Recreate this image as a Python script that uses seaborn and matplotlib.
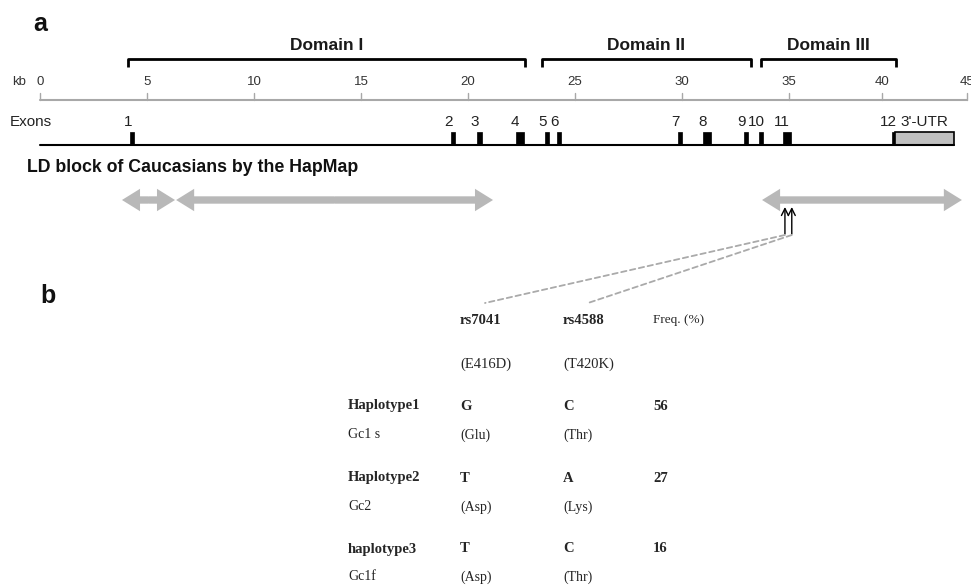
import matplotlib
matplotlib.use('Agg')
import matplotlib.pyplot as plt
import seaborn as sns
from matplotlib.patches import ConnectionPatch

sns.set_theme(style="white")
plt.rcParams['font.family'] = ['Liberation Sans', 'DejaVu Sans']

# 基因结构 (kb)
exon_names = ['1', '2', '3', '4', '5', '6', '7', '8', '9', '10', '11', '12']
exon_start = [4.22, 19.22, 20.42, 22.24, 23.60, 24.17, 29.80, 30.98, 32.90, 33.60, 34.72, 39.80]
exon_end = [4.41, 19.41, 20.65, 22.62, 23.78, 24.36, 30.00, 31.36, 33.10, 33.80, 35.09, 39.95]
utr_start, utr_end = 39.95, 42.71

tick_pos = [0, 5, 10, 15, 20, 25, 30, 35, 39.35, 43.3]
tick_labels = ['0', '5', '10', '15', '20', '25', '30', '35', '40', '45']

domain_names = ['Domain I', 'Domain II', 'Domain III']
domain_start = [4.11, 23.44, 33.69]
domain_end = [22.66, 33.22, 39.99]

# HapMap LD block
ld_start = [3.83, 6.36, 33.74]
ld_end = [6.31, 21.17, 43.08]

snp_names = ['rs7041', 'rs4588']
snp_pos = [34.81, 35.13]
snp_change = ['(E416D)', '(T420K)']

# 单倍型表
haplotypes = ['Haplotype1', 'Haplotype2', 'haplotype3']
gc_types = ['Gc1 s', 'Gc2', 'Gc1f']
allele_7041 = ['G', 'T', 'T']
aa_7041 = ['(Glu)', '(Asp)', '(Asp)']
allele_4588 = ['C', 'A', 'C']
aa_4588 = ['(Thr)', '(Lys)', '(Thr)']
freq = [56, 27, 16]

fig = plt.figure(figsize=(9.71, 5.88), dpi=100)

# 面板a: x轴为kb
ax = fig.add_axes([0, 0, 1, 1])
ax.set_xlim(-40 / 21.4, 931 / 21.4)
ax.set_ylim(588, 0)
ax.axis('off')

# 面板b: 像素坐标
axt = fig.add_axes([0, 0, 1, 1])
axt.set_xlim(0, 971)
axt.set_ylim(588, 0)
axt.axis('off')
axt.patch.set_alpha(0)

axt.text(33, 24, 'a', fontsize=18, fontweight='bold', ha='left', va='center', color='#111111')
axt.text(40, 296, 'b', fontsize=18, fontweight='bold', ha='left', va='center', color='#111111')

# 结构域括号
for name, s, e in zip(domain_names, domain_start, domain_end):
    ax.plot([s, s, e, e], [67, 59, 59, 67], color='black', lw=2, solid_capstyle='butt')
    ax.text((s + e) / 2, 45, name, fontsize=12.5, fontweight='bold', ha='center', va='center',
            color='#1a1a1a')

# 标尺
ax.plot([tick_pos[0], tick_pos[-1]], [100, 100], color='#a8a8a8', lw=1.5)
for p, lab in zip(tick_pos, tick_labels):
    ax.plot([p, p], [93, 100], color='#a8a8a8', lw=1)
    ax.text(p, 82, lab, fontsize=9.5, ha='center', va='center', color='#333333')
ax.text(-1.3, 82, 'kb', fontsize=9.5, ha='left', va='center', color='#333333')

# 外显子
ax.text(-1.4, 122, 'Exons', fontsize=11, ha='left', va='center', color='#222222')
ax.plot([0, utr_end], [145, 145], color='black', lw=1.5)
widths = [e - s for s, e in zip(exon_start, exon_end)]
ax.bar(exon_start, [13] * len(exon_start), width=widths, bottom=132, align='edge',
       color='black', edgecolor='black', lw=0.5)
for name, s, e in zip(exon_names, exon_start, exon_end):
    ax.text((s + e) / 2 - 0.22, 122, name, fontsize=11, ha='center', va='center', color='#222222')
ax.bar([utr_start], [13], width=utr_end - utr_start, bottom=132, align='edge',
       color='#c0c0c0', edgecolor='black', lw=1.2)
ax.text((utr_start + utr_end) / 2, 122, "3'-UTR", fontsize=11, ha='center', va='center', color='#222222')

axt.text(27, 167, 'LD block of Caucasians by the HapMap', fontsize=12.8, fontweight='bold',
         ha='left', va='center', color='#111111')

# 双向箭头: 杆 + 两端实心箭头
ld_color = '#b8b8b8'
ld_style = 'simple,head_length=0.5,head_width=0.62,tail_width=0.2'
for s, e in zip(ld_start, ld_end):
    ax.plot([s + 0.4, e - 0.4], [200, 200], color=ld_color, lw=4.6, solid_capstyle='butt')
    m = (s + e) / 2
    for end in (s, e):
        ax.annotate('', xy=(end, 200), xytext=(m, 200),
                    arrowprops=dict(arrowstyle=ld_style, color=ld_color, lw=0,
                                    shrinkA=0, shrinkB=0, mutation_scale=26))

# SNP 位置
for p in snp_pos:
    ax.annotate('', xy=(p, 207), xytext=(p, 234),
                arrowprops=dict(arrowstyle='->,head_length=0.5,head_width=0.25',
                                color='black', lw=1, shrinkA=0, shrinkB=0, mutation_scale=10))

col_x = [348, 460, 563, 653]
head_y, sub_y = 320, 364
row_y = [406, 478, 549]
row_sub_y = [435, 507, 577]

# 虚线连接
for p, cx in zip(snp_pos, col_x[1:3]):
    con = ConnectionPatch(xyA=(p, 235), coordsA=ax.transData,
                          xyB=(cx + 25, 303), coordsB=axt.transData,
                          color='#aaaaaa', lw=1.3, ls=(0, (3, 2)))
    fig.add_artist(con)

serif = ['Liberation Serif', 'DejaVu Serif']
fs = 10.5
for name, chg, cx in zip(snp_names, snp_change, col_x[1:3]):
    axt.text(cx, head_y, name, fontsize=fs, fontweight='bold', family=serif, ha='left', va='center')
    axt.text(cx, sub_y, chg, fontsize=fs, family=serif, ha='left', va='center')
axt.text(col_x[3], head_y, 'Freq. (%)', fontsize=fs - 1, family=serif, ha='left', va='center')

for i in range(len(haplotypes)):
    y1, y2 = row_y[i], row_sub_y[i]
    axt.text(col_x[0], y1, haplotypes[i], fontsize=fs, fontweight='bold', family=serif, ha='left', va='center')
    axt.text(col_x[1], y1, allele_7041[i], fontsize=fs, fontweight='bold', family=serif, ha='left', va='center')
    axt.text(col_x[2], y1, allele_4588[i], fontsize=fs, fontweight='bold', family=serif, ha='left', va='center')
    axt.text(col_x[3], y1, str(freq[i]), fontsize=fs, fontweight='bold', family=serif, ha='left', va='center')
    axt.text(col_x[0], y2, gc_types[i], fontsize=fs - 0.5, family=serif, ha='left', va='center', color='#222222')
    axt.text(col_x[1], y2, aa_7041[i], fontsize=fs - 0.5, family=serif, ha='left', va='center', color='#222222')
    axt.text(col_x[2], y2, aa_4588[i], fontsize=fs - 0.5, family=serif, ha='left', va='center', color='#222222')

fig.savefig('out.png', dpi=100)
